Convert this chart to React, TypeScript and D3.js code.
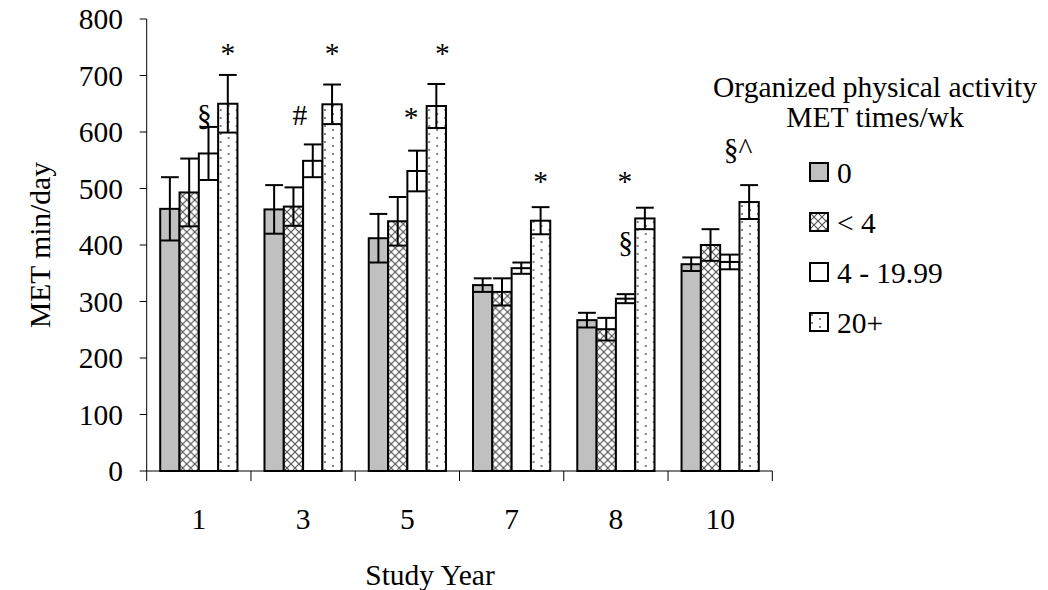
import React from 'react'
import * as d3 from 'd3'

// study years on the x axis
const years = ['1', '3', '5', '7', '8', '10']
// legend groups: organized physical activity, MET times/wk
const groups = ['0', '< 4', '4 - 19.99', '20+']

// mean MET min/day per group, one value per year
const mean0 = [464, 463, 412, 329, 267, 366]
const mean1 = [493, 468, 442, 317, 251, 400]
const mean2 = [562, 549, 531, 359, 305, 370]
const mean3 = [650, 649, 646, 443, 447, 476]

// error bar half-lengths
const err0 = [56, 43, 43, 12, 13, 12]
const err1 = [60, 34, 43, 24, 20, 28]
const err2 = [47, 29, 36, 10, 8, 13]
const err3 = [51, 35, 39, 24, 19, 30]

const yTicks = [0, 100, 200, 300, 400, 500, 600, 700, 800]

// significance marks: year, group, text, baseline value
const markYear = ['1', '1', '3', '3', '5', '5', '7', '8', '8', '10']
const markGroup = [2, 3, 2, 3, 2, 3, 3, 2, 3, 3]
const markText = ['§', '*', '#', '*', '*', '*', '*', '§', '*', '§^']
const markAt = [613, 723, 613, 723, 609, 723, 496, 387, 496, 552]
// small horizontal nudges for the marks (layout only)
const markNudge = [-4, 0, -13, 0, -6, 6, 0, 0, -20, -11]

const means = [mean0, mean1, mean2, mean3]
const errs = [err0, err1, err2, err3]
const fills = ['#c0c0c0', 'url(#cross)', '#ffffff', 'url(#dots)']

const FONT = '"Liberation Serif", "Times New Roman", serif'
const FS = 29.5

export default function App() {
  const width = 1048
  const height = 590
  const left = 146.7
  const right = 772.3
  const top = 19
  const bottom = 471

  const x = d3.scaleBand<string>().domain(years).range([left, right]).paddingInner(0).paddingOuter(0)
  const x1 = d3.scaleBand<number>().domain(d3.range(groups.length)).range([0, x.bandwidth()]).paddingOuter(0.7).paddingInner(0)
  const y = d3.scaleLinear().domain([0, 800]).range([bottom, top])

  const bw = x1.bandwidth()
  const cap = bw - 1.5
  const boundaries = years.map(d => x(d)!).concat([right])

  return (
    <svg width={width} height={height} style={{ position: 'absolute', left: 0, top: 0, background: '#fff' }}
      fontFamily={FONT}>
      <defs>
        <pattern id="cross" width={8} height={8} patternUnits="userSpaceOnUse">
          <rect width={8} height={8} fill="#fff" />
          <path d="M0,0L8,8M8,0L0,8" stroke="#555" strokeWidth={1.2} />
        </pattern>
        <pattern id="dots" width={16} height={8} patternUnits="userSpaceOnUse">
          <rect width={16} height={8} fill="#fff" />
          <circle cx={2} cy={2} r={0.9} fill="#444" />
          <circle cx={10} cy={6} r={0.9} fill="#444" />
        </pattern>
      </defs>

      {/* y axis */}
      <line x1={left} x2={left} y1={top} y2={bottom} stroke="#000" strokeWidth={1} />
      {yTicks.map(t => (
        <g key={t}>
          <line x1={left - 7} x2={left} y1={y(t)} y2={y(t)} stroke="#000" strokeWidth={1} />
          <text x={123} y={y(t)} dy="0.34em" textAnchor="end" fontSize={FS}>{t}</text>
        </g>
      ))}
      <text transform={`translate(50,${(top + bottom) / 2}) rotate(-90)`} textAnchor="middle" fontSize={FS}>MET min/day</text>

      {/* bars */}
      {years.map((yr, i) => (
        <g key={yr} transform={`translate(${x(yr)},0)`}>
          {groups.map((g, k) => (
            <rect key={g} x={x1(k)} y={y(means[k][i])} width={bw} height={bottom - y(means[k][i])}
              fill={fills[k]} stroke="#000" strokeWidth={2} />
          ))}
          {groups.map((g, k) => {
            const cx = x1(k)! + bw / 2
            const hi = y(means[k][i] + errs[k][i])
            const lo = y(means[k][i] - errs[k][i])
            return (
              <g key={g} stroke="#000" strokeWidth={2}>
                <line x1={cx} x2={cx} y1={hi} y2={lo} />
                <line x1={cx - cap / 2} x2={cx + cap / 2} y1={hi} y2={hi} />
                <line x1={cx - cap / 2} x2={cx + cap / 2} y1={lo} y2={lo} />
              </g>
            )
          })}
        </g>
      ))}

      {/* x axis */}
      <line x1={left} x2={right} y1={bottom} y2={bottom} stroke="#000" strokeWidth={1} />
      {boundaries.map((b, i) => (
        <line key={i} x1={b} x2={b} y1={bottom} y2={bottom + 10} stroke="#000" strokeWidth={1} />
      ))}
      {years.map(yr => (
        <text key={yr} x={x(yr)! + x.bandwidth() / 2} y={529} textAnchor="middle" fontSize={FS}>{yr}</text>
      ))}
      <text x={430} y={585} textAnchor="middle" fontSize={FS}>Study Year</text>

      {/* significance marks */}
      {markText.map((m, j) => (
        <text key={j} x={x(markYear[j])! + x1(markGroup[j])! + bw / 2 + markNudge[j]} y={y(markAt[j])}
          textAnchor="middle" fontSize={FS}>{m}</text>
      ))}

      {/* legend */}
      <text x={875} y={97} textAnchor="middle" fontSize={FS}>Organized physical activity</text>
      <text x={875} y={127} textAnchor="middle" fontSize={FS}>MET times/wk</text>
      {groups.map((g, k) => (
        <g key={g} transform={`translate(810,${163 + k * 50})`}>
          <rect x={0} y={0} width={18} height={18} fill={fills[k]} stroke="#000" strokeWidth={2} />
          <text x={27} y={19.5} fontSize={FS}>{g}</text>
        </g>
      ))}
    </svg>
  )
}
